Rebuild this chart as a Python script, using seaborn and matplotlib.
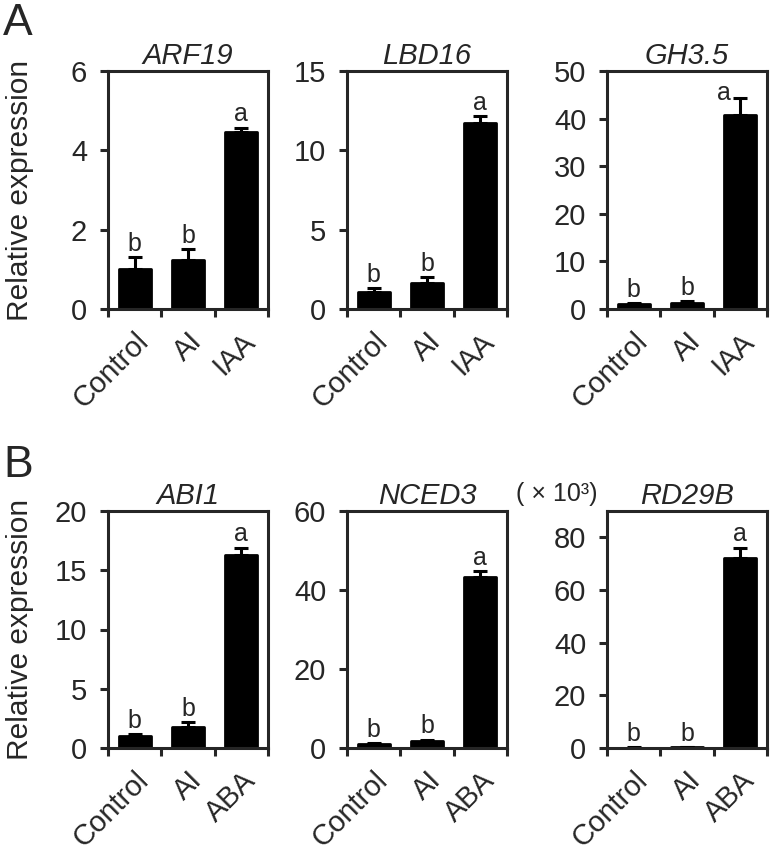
import matplotlib
matplotlib.use("Agg")
import matplotlib.pyplot as plt
import seaborn as sns
import numpy as np

sns.set_style("ticks")
plt.rcParams["font.family"] = ["Liberation Sans", "DejaVu Sans"]

# ── data ──────────────────────────────────────────
auxin_conditions = ["Control", "AI", "IAA"]
aba_conditions = ["Control", "AI", "ABA"]

arf19_mean = [1.0, 1.23, 4.45]
arf19_err = [0.30, 0.28, 0.12]
lbd16_mean = [1.1, 1.67, 11.75]
lbd16_err = [0.20, 0.33, 0.40]
gh35_mean = [1.0, 1.3, 40.8]
gh35_err = [0.20, 0.30, 3.5]

abi1_mean = [1.0, 1.75, 16.3]
abi1_err = [0.15, 0.45, 0.6]
nced3_mean = [1.0, 1.8, 43.2]
nced3_err = [0.2, 0.3, 1.6]
rd29b_mean = [0.15, 0.2, 72.2]   # x10^3
rd29b_err = [0.05, 0.05, 3.8]

letters_top = ["b", "b", "a"]
letters_bottom = ["b", "b", "a"]

panels = [
    ("ARF19", auxin_conditions, arf19_mean, arf19_err, letters_top, 6, 2),
    ("LBD16", auxin_conditions, lbd16_mean, lbd16_err, letters_top, 15, 5),
    ("GH3.5", auxin_conditions, gh35_mean, gh35_err, letters_top, 50, 10),
    ("ABI1", aba_conditions, abi1_mean, abi1_err, letters_bottom, 20, 5),
    ("NCED3", aba_conditions, nced3_mean, nced3_err, letters_bottom, 60, 20),
    ("RD29B", aba_conditions, rd29b_mean, rd29b_err, letters_bottom, 90, 20),
]

# ── layout ────────────────────────────────────────
W, H = 776, 851
fig = plt.figure(figsize=(W / 100, H / 100), dpi=100)

lefts = [108, 347, 607]
row_tb = [(71, 309), (511, 748)]
ax_w = 160

lw = 2.2
for k, (gene, conds, mean, err, letters, ymax, ystep) in enumerate(panels):
    row, col = divmod(k, 3)
    top, bot = row_tb[row]
    ax = fig.add_axes([lefts[col] / W, 1 - bot / H, ax_w / W, (bot - top) / H])

    sns.barplot(x=conds, y=mean, color="black", edgecolor="black", linewidth=2,
                width=0.6, saturation=1, errorbar=None, ax=ax)
    for p in ax.patches:
        p.set_joinstyle("round")

    xs = np.arange(len(conds))
    ax.errorbar(xs, mean, yerr=[np.zeros(len(mean)), err], fmt="none",
                ecolor="black", elinewidth=lw, capsize=4.7, capthick=lw, zorder=1)

    tops = np.array(mean) + np.array(err)
    for i, (x, t, lab) in enumerate(zip(xs, tops, letters)):
        dx, dy = 0, 1
        if gene == "GH3.5" and i == 2:
            dx, dy = -12, -5
        ax.annotate(lab, (x, t), xytext=(dx, dy), textcoords="offset points",
                    ha="center", va="bottom", fontsize=18)

    ax.set_xlim(-0.5, len(conds) - 0.5)
    ax.set_ylim(0, ymax)
    ax.set_yticks(np.arange(0, ymax + 0.01, ystep) if gene != "RD29B" else np.arange(0, 81, 20))
    ax.set_xticks(xs)
    ax.set_xticklabels(conds, rotation=45, ha="right", rotation_mode="anchor")
    ax.set_xticks(np.arange(-0.5, len(conds)), minor=True)
    ax.tick_params(axis="x", which="major", length=0, pad=13, labelsize=21)
    ax.tick_params(axis="x", which="minor", length=6, width=lw, direction="out")
    ax.tick_params(axis="y", length=6, width=lw, direction="out", pad=9, labelsize=21)
    for s in ax.spines.values():
        s.set_linewidth(lw)
        s.set_visible(True)

    ax.set_title(gene, style="italic", fontsize=21, pad=5)
    ax.set_xlabel("")
    if col == 0:
        ax.set_ylabel("Relative expression", fontsize=21.5)
        ax.yaxis.set_label_coords(-0.46, 0.5)
    if gene == "RD29B":
        ax.text(-0.57, 1.02, "( × 10³)", transform=ax.transAxes, fontsize=18,
                ha="left", va="bottom")

fig.text(3 / W, 1 - 35 / H, "A", fontsize=32, ha="left", va="baseline")
fig.text(3 / W, 1 - 477 / H, "B", fontsize=32, ha="left", va="baseline")

fig.savefig("out.png", dpi=100)
